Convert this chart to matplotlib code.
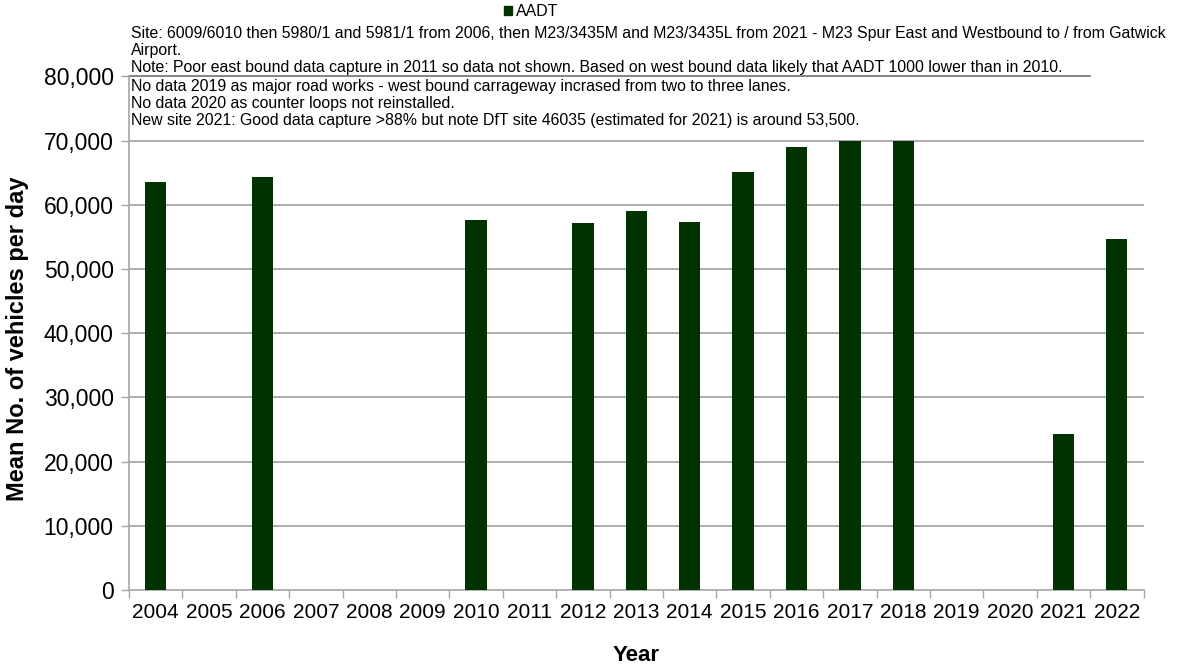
import numpy as np
import matplotlib.pyplot as plt
from matplotlib.patches import Patch

plt.rcParams['font.family'] = ['Liberation Sans', 'DejaVu Sans']

# Annual average daily traffic, None where no data was recorded
years = [str(y) for y in range(2004, 2023)]
aadt = [63600, None, 64400, None, None, None, 57700, None, 57100, 59000,
        57300, 65100, 69000, 70000, 70000, None, None, 24300, 54600]

notes = [
    "Site: 6009/6010 then 5980/1 and 5981/1 from 2006, then M23/3435M and M23/3435L from 2021 - M23 Spur East and Westbound to / from Gatwick",
    "Airport.",
    "Note: Poor east bound data capture in 2011 so data not shown. Based on west bound data likely that AADT 1000 lower than in 2010.",
    "No data 2019 as major road works - west bound carrageway incrased from two to three lanes.",
    "No data 2020 as counter loops not reinstalled.",
    "New site 2021: Good data capture >88% but note DfT site 46035 (estimated for 2021) is around 53,500.",
]

W, H = 1181, 668
fig = plt.figure(figsize=(W / 100, H / 100), dpi=100)
ax = fig.add_axes([129 / W, 1 - 590 / H, (1143.5 - 129) / W, (590 - 76.4) / H])

bar_color = '#003300'
grid_color = '#a6a6a6'

x = np.arange(len(years))
vals = np.array([np.nan if v is None else v for v in aadt], dtype=float)
ax.bar(x, np.nan_to_num(vals), width=0.4, color=bar_color, zorder=3)

ax.set_xlim(-0.5, len(years) - 0.5)
ax.set_ylim(0, 80000)
ax.set_yticks(np.arange(0, 80001, 10000))
ax.set_yticklabels([f"{v:,}" for v in range(0, 80001, 10000)], fontsize=16.5)
ax.set_xticks(x)
ax.set_xticklabels(years, fontsize=15)
ax.set_xticks(np.arange(-0.5, len(years)), minor=True)
ax.tick_params(axis='x', which='major', length=0, pad=9)
ax.tick_params(axis='x', which='minor', length=6, color=grid_color, width=1)
ax.tick_params(axis='y', length=6, color=grid_color, width=1, pad=5)

for v in range(10000, 80000, 10000):
    ax.axhline(v, color=grid_color, lw=1.3, zorder=1)
ax.axhline(80000, xmax=(1090 - 129) / (1143.5 - 129), color='#707070', lw=1.2, zorder=1, clip_on=False)

for s in ['top', 'right']:
    ax.spines[s].set_visible(False)
for s in ['left', 'bottom']:
    ax.spines[s].set_color(grid_color)
    ax.spines[s].set_linewidth(1.2)

ax.set_xlabel('Year', fontsize=16, fontweight='bold')
ax.xaxis.set_label_coords(0.5, -0.107)
ax.set_ylabel('Mean No. of vehicles per day', fontsize=17, fontweight='bold')
ax.yaxis.set_label_coords(-0.099, 0.49)

# notes above the plot area
baselines = [38, 55, 72, 91, 108, 125]
for line, yb in zip(notes, baselines):
    fig.text(131 / W, 1 - yb / H, line, fontsize=11.4, va='baseline', ha='left')

fig.legend(handles=[Patch(color=bar_color, label='AADT')], loc='center',
           bbox_to_anchor=(531 / W, 1 - 12 / H), frameon=False, fontsize=11.4,
           handlelength=0.5, handleheight=0.5, handletextpad=0.25, borderpad=0)

fig.savefig('out.png', dpi=100)
